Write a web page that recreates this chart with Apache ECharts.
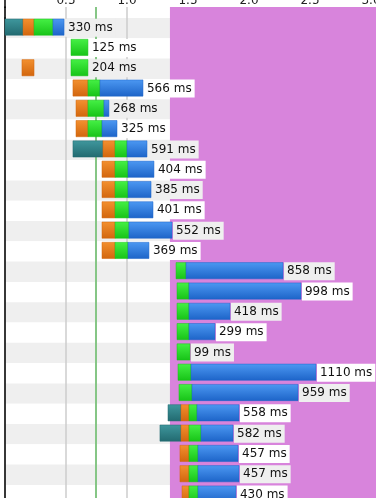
<!DOCTYPE html>
<html>
<head>
<meta charset="utf-8">
<script src="https://cdn.jsdelivr.net/npm/echarts@6/dist/echarts.min.js"></script>
<style>
html,body{margin:0;padding:0;background:#fff;}
#chart{width:376px;height:498px;}
</style>
</head>
<body>
<div id="chart"></div>
<script>
// ---- data (times in ms) ----
const rowNames = ['1','2','3','4','5','6','7','8','9','10','11','12','13','14','15','16','17','18','19','20','21','22','23','24'];
const durations = [330,125,204,566,268,325,591,404,385,401,552,369,858,998,418,299,99,1110,959,558,582,457,457,430];
const dnsTimes = [[0,148],null,null,null,null,null,[557,803],null,null,null,null,null,null,null,null,null,null,null,null,[1336,1443],[1270,1443],null,null,null];
const connectTimes = [[148,238],null,[139,238],[557,680],[582,680],[582,680],[803,902],[795,902],[795,902],[795,902],[795,902],[795,902],null,null,null,null,null,null,null,[1443,1508],[1443,1508],[1434,1508],[1434,1508],[1451,1508]];
const ttfbTimes = [[238,393],[541,680],[541,680],[680,779],[680,811],[680,795],[902,1000],[902,1008],[902,1008],[902,1016],[902,1016],[902,1008],[1402,1484],[1410,1508],[1410,1508],[1410,1508],[1410,1516],[1418,1525],[1426,1533],[1508,1574],[1508,1607],[1508,1582],[1508,1582],[1508,1582]];
const downloadTimes = [[393,484],null,null,[779,1131],[811,852],[795,918],[1000,1164],[1008,1221],[1008,1197],[1016,1213],[1016,1369],[1008,1180],[1484,2279],[1508,2426],[1508,1844],[1508,1721],null,[1525,2549],[1533,2402],[1574,1918],[1607,1869],[1582,1910],[1582,1918],[1582,1893]];
const startRender = 746;
const loadEvent = [1352, 3041];
const axisMax = 3041;
const tickInterval = 500;

// ---- styles ----
const segTypes = [
  {arr: dnsTimes, top: '#3f979d', bottom: '#226a70'},
  {arr: connectTimes, top: '#f3902f', bottom: '#d2660e'},
  {arr: ttfbTimes, top: '#45f045', bottom: '#17c317'},
  {arr: downloadTimes, top: '#4c98f2', bottom: '#1d64c8'}
];
const stripeGrey = '#efefef';

const segData = [];
segTypes.forEach((t, ti) => {
  t.arr.forEach((s, ri) => { if (s) segData.push([s[0], s[1], ri, ti]); });
});
const labelData = rowNames.map((n, ri) => {
  let end = 0;
  segTypes.forEach(t => { const s = t.arr[ri]; if (s && s[1] > end) end = s[1]; });
  return [end, ri, durations[ri] + ' ms'];
});

const chart = echarts.init(document.getElementById('chart'), null, {renderer: 'canvas'});
const fontFam = '"DejaVu Sans", Verdana, sans-serif';

chart.setOption({
  animation: false,
  backgroundColor: '#ffffff',
  grid: [
    {left: 5, top: 18, width: 371, height: 487.2, containLabel: false, outerBoundsMode: 'none'},
    {left: 5, top: 7, width: 371, height: 11, containLabel: false, outerBoundsMode: 'none'}
  ],
  xAxis: [
    {gridIndex: 0, type: 'value', min: 0, max: axisMax, interval: tickInterval,
     axisLabel: {show: false}, axisTick: {show: false}, axisLine: {show: false},
     splitLine: {show: true, lineStyle: {color: '#cdcdcd', width: 1.5}}},
    {gridIndex: 1, type: 'value', position: 'top', min: 0, max: axisMax, interval: tickInterval,
     axisLabel: {show: true, margin: 0, color: '#222', fontSize: 12, fontFamily: fontFam,
       alignMaxLabel: 'center', alignMinLabel: 'center', hideOverlap: false,
       formatter: v => v === 0 ? '' : (v / 1000).toFixed(1)},
     axisTick: {show: false}, axisLine: {show: false},
     splitLine: {show: true, lineStyle: {color: '#cdcdcd', width: 1.5}}}
  ],
  yAxis: [
    {gridIndex: 0, type: 'category', data: rowNames, inverse: true,
     axisLabel: {show: false}, axisTick: {show: false},
     axisLine: {show: true, lineStyle: {color: '#000', width: 1.5}},
     splitLine: {show: false},
     splitArea: {show: true, areaStyle: {color: [stripeGrey, '#ffffff']}}},
    {gridIndex: 1, type: 'value', min: 0, max: 1,
     axisLabel: {show: false}, axisTick: {show: false},
     axisLine: {show: true, lineStyle: {color: '#000', width: 1.5}},
     splitLine: {show: false}}
  ],
  graphic: [
    {type: 'line', shape: {x1: 5, y1: 0, x2: 5, y2: 8}, style: {stroke: '#000', lineWidth: 1.5}, z: 10}
  ],
  series: [
    {type: 'line', xAxisIndex: 0, yAxisIndex: 0, data: [[0, '1']], symbol: 'none',
     lineStyle: {opacity: 0}, z: 1, silent: true,
     markArea: {silent: true, itemStyle: {color: '#d884dc', opacity: 1},
       data: [[{xAxis: loadEvent[0]}, {xAxis: loadEvent[1]}]]},
     markLine: {silent: true, symbol: 'none', label: {show: false},
       lineStyle: {color: '#86c686', width: 2, type: 'solid'},
       data: [{xAxis: startRender}]}},
    {type: 'line', xAxisIndex: 1, yAxisIndex: 1, data: [[0, 0]], symbol: 'none',
     lineStyle: {opacity: 0}, z: 1, silent: true,
     markArea: {silent: true, itemStyle: {color: '#d884dc', opacity: 1},
       data: [[{xAxis: loadEvent[0]}, {xAxis: loadEvent[1]}]]},
     markLine: {silent: true, symbol: 'none', label: {show: false},
       lineStyle: {color: '#86c686', width: 2, type: 'solid'},
       data: [{xAxis: startRender}]}},
    {type: 'custom', xAxisIndex: 0, yAxisIndex: 0, z: 5, silent: true,
     data: segData,
     encode: {x: [0, 1], y: 2},
     renderItem: function (params, api) {
       const a = api.coord([api.value(0), api.value(2)]);
       const b = api.coord([api.value(1), api.value(2)]);
       const h = api.size([0, 1])[1];
       const bh = h * 0.8;
       const t = segTypes[api.value(3)];
       return {
         type: 'rect',
         shape: {x: a[0], y: a[1] - h / 2 + 1, width: b[0] - a[0], height: bh},
         style: {
           fill: new echarts.graphic.LinearGradient(0, 0, 0, 1, [
             {offset: 0, color: t.top}, {offset: 1, color: t.bottom}
           ]),
           stroke: t.bottom, lineWidth: 0.5
         }
       };
     }},
    {type: 'custom', xAxisIndex: 0, yAxisIndex: 0, z: 6, silent: true,
     data: labelData,
     encode: {x: 0, y: 1},
     renderItem: function (params, api) {
       const p = api.coord([api.value(0), api.value(1)]);
       const ri = api.value(1);
       return {
         type: 'text',
         style: {
           text: labelData[ri][2],
           x: p[0] + 1, y: p[1] - 0.5,
           verticalAlign: 'middle', align: 'left',
           fill: '#111',
           font: '12px ' + fontFam,
           backgroundColor: ri % 2 === 0 ? stripeGrey : '#ffffff',
           padding: [3, 3, 3, 3]
         }
       };
     }}
  ]
});
</script>
</body>
</html>
